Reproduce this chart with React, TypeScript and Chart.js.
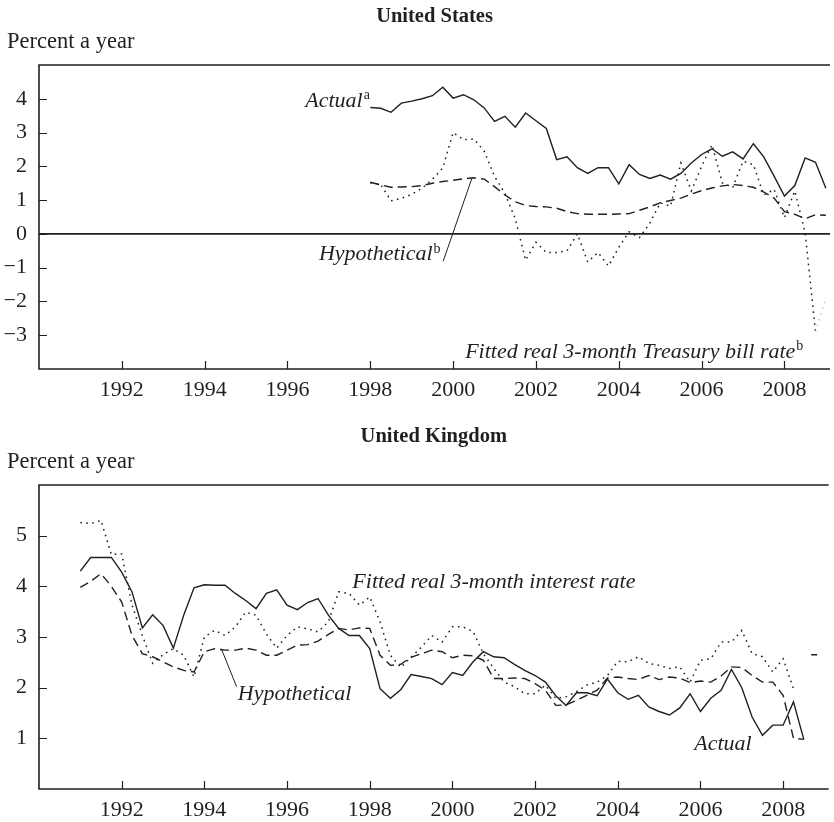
import React, { useEffect, useRef } from 'react';
import { Chart, registerables } from 'chart.js';

Chart.register(...registerables);

// ---------- data ----------
const US_START = 1998; // quarterly observations
const US_ACTUAL = [
  3.74, 3.72, 3.60, 3.87, 3.93, 4.00, 4.09, 4.34, 4.02, 4.12, 3.97, 3.73,
  3.33, 3.48, 3.16, 3.58, 3.35, 3.12, 2.20, 2.28, 1.96, 1.79, 1.96, 1.96,
  1.48, 2.05, 1.76, 1.64, 1.74, 1.62, 1.79, 2.10, 2.35, 2.52, 2.30, 2.43,
  2.22, 2.67, 2.28, 1.71, 1.12, 1.43, 2.25, 2.12, 1.35,
];
const US_HYPOTHETICAL = [
  1.53, 1.45, 1.38, 1.39, 1.40, 1.43, 1.50, 1.55, 1.59, 1.63, 1.66, 1.62,
  1.40, 1.15, 0.95, 0.84, 0.81, 0.80, 0.76, 0.66, 0.60, 0.58, 0.58, 0.58,
  0.59, 0.60, 0.70, 0.80, 0.92, 0.99, 1.06, 1.18, 1.28, 1.36, 1.42, 1.46,
  1.43, 1.38, 1.24, 1.06, 0.66, 0.58, 0.45, 0.57, 0.55,
];
const US_FITTED = [
  1.51, 1.47, 0.98, 1.05, 1.17, 1.35, 1.62, 1.95, 3.00, 2.79, 2.81, 2.45,
  1.70, 1.20, 0.45, -0.78, -0.25, -0.55, -0.55, -0.50, 0.00, -0.83, -0.55, -0.95,
  -0.40, 0.06, -0.11, 0.32, 0.92, 0.82, 2.10, 1.27, 2.00, 2.64, 1.51, 1.37,
  2.15, 2.05, 1.15, 1.32, 0.48, 1.27, 0.04, -2.90, -1.90,
];

const UK_START = 1991; // quarterly observations
const UK_ACTUAL = [
  4.30, 4.57, 4.57, 4.57, 4.28, 3.89, 3.18, 3.44, 3.23, 2.78, 3.43, 3.97,
  4.03, 4.02, 4.02, 3.86, 3.72, 3.56, 3.86, 3.93, 3.63, 3.54, 3.68, 3.76,
  3.43, 3.17, 3.03, 3.03, 2.77, 1.98, 1.79, 1.96, 2.26, 2.22, 2.18, 2.06,
  2.30, 2.24, 2.51, 2.71, 2.61, 2.59, 2.46, 2.34, 2.24, 2.11, 1.84, 1.65,
  1.90, 1.90, 1.84, 2.17, 1.90, 1.77, 1.85, 1.62, 1.53, 1.46, 1.60, 1.88,
  1.53, 1.79, 1.95, 2.36, 2.00, 1.42, 1.06, 1.26, 1.26, 1.72, 0.98,
];
const UK_HYPOTHETICAL = [
  3.98, 4.10, 4.25, 4.00, 3.69, 3.03, 2.67, 2.61, 2.51, 2.41, 2.34, 2.31,
  2.71, 2.77, 2.74, 2.74, 2.78, 2.74, 2.64, 2.64, 2.74, 2.84, 2.85, 2.92,
  3.05, 3.17, 3.14, 3.18, 3.17, 2.64, 2.44, 2.46, 2.60, 2.67, 2.74, 2.71,
  2.59, 2.64, 2.63, 2.54, 2.18, 2.18, 2.19, 2.18, 2.08, 1.95, 1.65, 1.66,
  1.75, 1.85, 1.95, 2.19, 2.21, 2.18, 2.16, 2.24, 2.16, 2.21, 2.19, 2.10,
  2.13, 2.11, 2.23, 2.41, 2.40, 2.24, 2.11, 2.11, 1.85, 1.00, 0.98,
];
const UK_FITTED: (number | null)[] = [
  5.26, 5.24, 5.30, 4.63, 4.64, 3.63, 3.03, 2.48, 2.65, 2.77, 2.64, 2.21,
  3.00, 3.13, 3.03, 3.20, 3.49, 3.43, 3.06, 2.78, 3.03, 3.20, 3.16, 3.10,
  3.30, 3.89, 3.86, 3.63, 3.79, 3.30, 2.64, 2.40, 2.60, 2.80, 3.03, 2.90,
  3.20, 3.20, 3.11, 2.67, 2.38, 2.11, 2.02, 1.88, 1.88, 2.05, 1.79, 1.82,
  1.92, 2.05, 2.11, 2.24, 2.52, 2.51, 2.61, 2.48, 2.44, 2.38, 2.41, 2.11,
  2.54, 2.57, 2.90, 2.90, 3.13, 2.67, 2.61, 2.31, 2.57, 1.98, null, 2.65,
];

const X_TICKS = [1992, 1994, 1996, 1998, 2000, 2002, 2004, 2006, 2008];
const US_Y_TICKS = [-3, -2, -1, 0, 1, 2, 3, 4];
const UK_Y_TICKS = [1, 2, 3, 4, 5];

// ---------- style ----------
const INK = '#231f20';
const FONT = '"Liberation Serif", "Times New Roman", Times, serif';
const FS = 22;

type Label = { text: string; sup?: string; x: number; y: number };
type Leader = { x1: number; y1: number; x2: number; y2: number };

const US_LABELS: Label[] = [
  { text: 'Actual', sup: 'a', x: 1996.43, y: 3.94 },
  { text: 'Hypothetical', sup: 'b', x: 1996.76, y: -0.6 },
  { text: 'Fitted real 3-month Treasury bill rate', sup: 'b', x: 2000.29, y: -3.49 },
];
const US_LEADERS: Leader[] = [{ x1: 1999.76, y1: -0.81, x2: 2000.46, y2: 1.67 }];

const UK_LABELS: Label[] = [
  { text: 'Fitted real 3-month interest rate', x: 1997.58, y: 4.09 },
  { text: 'Hypothetical', x: 1994.81, y: 1.88 },
  { text: 'Actual', x: 2005.85, y: 0.88 },
];
const UK_LEADERS: Leader[] = [{ x1: 1994.78, y1: 2.02, x2: 1994.41, y2: 2.77 }];

const toPoints = (start: number, arr: (number | null)[]) =>
  arr.map((v, i) => ({ x: start + i * 0.25, y: v }));

const fmtNum = (v: number) => (v < 0 ? '\u2212' + Math.abs(v) : String(v));

const decorPlugin = {
  id: 'decor',
  afterDraw(chart: any) {
    const cfg = chart.options.plugins.decor;
    const { ctx, chartArea: a, scales } = chart;
    const xs = scales.x;
    const ys = scales.y;
    ctx.save();
    ctx.strokeStyle = INK;
    ctx.lineWidth = 1.6;
    ctx.beginPath();
    ctx.moveTo(a.left, a.top);
    ctx.lineTo(a.right, a.top);
    ctx.moveTo(a.left, a.top - 0.8);
    ctx.lineTo(a.left, a.bottom + 0.8);
    ctx.moveTo(a.left, a.bottom);
    ctx.lineTo(a.right, a.bottom);
    if (cfg.zeroLine) {
      const z = ys.getPixelForValue(0);
      ctx.moveTo(a.left, z);
      ctx.lineTo(a.right, z);
    }
    ctx.stroke();
    ctx.lineWidth = 1.2;
    ctx.beginPath();
    for (const t of xs.ticks) {
      const px = Math.round(xs.getPixelForValue(t.value)) + 0.5;
      ctx.moveTo(px, a.bottom);
      ctx.lineTo(px, a.bottom - 8);
    }
    for (const t of ys.ticks) {
      const py = Math.round(ys.getPixelForValue(t.value)) + 0.5;
      ctx.moveTo(a.left, py);
      ctx.lineTo(a.left + 8, py);
    }
    ctx.stroke();

    ctx.fillStyle = INK;
    ctx.textBaseline = 'middle';
    ctx.textAlign = 'center';
    ctx.font = `bold 20.5px ${FONT}`;
    ctx.fillText(cfg.title, (a.left + a.right) / 2, a.top - 48);
    ctx.textAlign = 'left';
    ctx.font = `22.5px ${FONT}`;
    ctx.fillText('Percent a year', 7, a.top - 23);

    for (const l of cfg.labels as Label[]) {
      const px = xs.getPixelForValue(l.x);
      const py = ys.getPixelForValue(l.y);
      ctx.font = `italic ${FS}px ${FONT}`;
      ctx.fillText(l.text, px, py);
      if (l.sup) {
        const w = ctx.measureText(l.text).width;
        ctx.font = `${FS - 8}px ${FONT}`;
        ctx.fillText(l.sup, px + w + 1, py - 5);
      }
    }
    ctx.lineWidth = 1;
    ctx.beginPath();
    for (const ld of cfg.leaders as Leader[]) {
      ctx.moveTo(xs.getPixelForValue(ld.x1), ys.getPixelForValue(ld.y1));
      ctx.lineTo(xs.getPixelForValue(ld.x2), ys.getPixelForValue(ld.y2));
    }
    ctx.stroke();
    ctx.restore();
  },
};

function makeConfig(opts: {
  datasets: any[];
  yMin: number;
  yMax: number;
  yTicks: number[];
  axisHeight: number;
  title: string;
  zeroLine: boolean;
  labels: Label[];
  leaders: Leader[];
}): any {
  return {
    type: 'line',
    data: { datasets: opts.datasets },
    plugins: [decorPlugin],
    options: {
      animation: false,
      responsive: false,
      devicePixelRatio: 1,
      layout: { padding: { top: 65, right: 4, left: 0, bottom: 0 } },
      elements: { point: { radius: 0 }, line: { tension: 0 } },
      plugins: {
        legend: { display: false },
        tooltip: { enabled: false },
        decor: {
          title: opts.title,
          zeroLine: opts.zeroLine,
          labels: opts.labels,
          leaders: opts.leaders,
        },
      },
      scales: {
        x: {
          type: 'linear',
          min: 1990,
          max: 2009.1,
          grid: { display: false, drawTicks: false },
          border: { display: false },
          afterBuildTicks: (s: any) => {
            s.ticks = X_TICKS.map((v) => ({ value: v }));
          },
          afterFit: (s: any) => {
            s.height = opts.axisHeight;
          },
          ticks: {
            autoSkip: false,
            maxRotation: 0,
            padding: 8,
            color: INK,
            font: { family: FONT, size: FS },
            callback: (v: number) => String(v),
          },
        },
        y: {
          min: opts.yMin,
          max: opts.yMax,
          grid: { display: false, drawTicks: false },
          border: { display: false },
          afterBuildTicks: (s: any) => {
            s.ticks = opts.yTicks.map((v) => ({ value: v }));
          },
          afterFit: (s: any) => {
            s.width = 39;
          },
          ticks: {
            padding: 12,
            color: INK,
            font: { family: FONT, size: FS },
            callback: (v: number) => fmtNum(v),
          },
        },
      },
    },
  };
}

const solid = (data: any[]) => ({
  data,
  borderColor: INK,
  borderWidth: 1.4,
  pointRadius: 0,
  fill: false,
});
const dashed = (data: any[]) => ({
  data,
  borderColor: INK,
  borderWidth: 1.4,
  borderDash: [9, 5],
  pointRadius: 0,
  fill: false,
});
const dotted = (data: any[], extra: any = {}) => ({
  data,
  borderColor: INK,
  borderWidth: 1.5,
  borderDash: [1.6, 4.4],
  pointRadius: 0,
  fill: false,
  ...extra,
});

const usConfig = () =>
  makeConfig({
    datasets: [
      solid(toPoints(US_START, US_ACTUAL)),
      dashed(toPoints(US_START, US_HYPOTHETICAL)),
      dotted(toPoints(US_START, US_FITTED), {
        segment: {
          borderColor: (c: any) => (c.p1DataIndex === US_FITTED.length - 1 ? '#c8c8c8' : INK),
        },
      }),
    ],
    yMin: -4,
    yMax: 5,
    yTicks: US_Y_TICKS,
    axisHeight: 51,
    title: 'United States',
    zeroLine: true,
    labels: US_LABELS,
    leaders: US_LEADERS,
  });

const ukConfig = () =>
  makeConfig({
    datasets: [
      solid(toPoints(UK_START, UK_ACTUAL)),
      dashed(toPoints(UK_START, UK_HYPOTHETICAL)),
      dotted(toPoints(UK_START, UK_FITTED), {
        spanGaps: false,
        pointStyle: 'line',
        pointBorderColor: INK,
        pointBorderWidth: 1.4,
        pointRadius: (c: any) => (c.dataIndex === UK_FITTED.length - 1 ? 3 : 0),
      }),
    ],
    yMin: 0,
    yMax: 6,
    yTicks: UK_Y_TICKS,
    axisHeight: 33,
    title: 'United Kingdom',
    zeroLine: false,
    labels: UK_LABELS,
    leaders: UK_LEADERS,
  });

function Panel({ make, top, height }: { make: () => any; top: number; height: number }) {
  const ref = useRef<HTMLCanvasElement>(null);
  useEffect(() => {
    if (!ref.current) return;
    const chart = new Chart(ref.current, make());
    return () => chart.destroy();
  }, [make]);
  return (
    <canvas
      ref={ref}
      width={834}
      height={height}
      style={{ position: 'absolute', left: 0, top, width: 834, height, display: 'block' }}
    />
  );
}

export default function App() {
  return (
    <div style={{ position: 'absolute', left: 0, top: 0, width: 834, height: 822, background: '#fff' }}>
      <Panel make={usConfig} top={0} height={420} />
      <Panel make={ukConfig} top={420} height={402} />
    </div>
  );
}
